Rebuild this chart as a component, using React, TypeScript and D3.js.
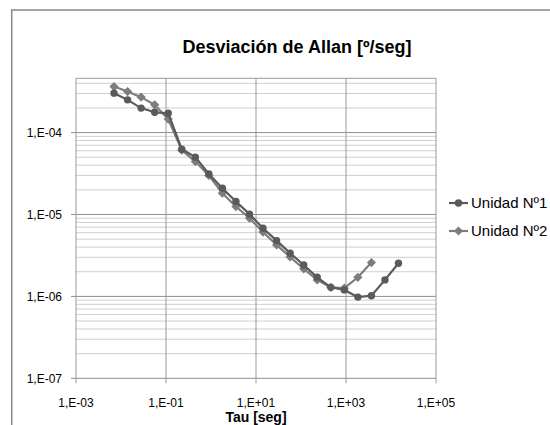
import React from "react";
import * as d3 from "d3";

// tau [s] (octave steps)
const tau = [
  0.007, 0.014, 0.028, 0.056, 0.112, 0.224, 0.448, 0.896, 1.79, 3.58, 7.17,
  14.3, 28.7, 57.3, 115, 229, 459, 918, 1835, 3670, 7340, 14680,
];

const unidad1 = [
  3.03e-4, 2.51e-4, 1.99e-4, 1.77e-4, 1.72e-4, 6.27e-5, 5.01e-5, 3.13e-5,
  2.09e-5, 1.44e-5, 1.01e-5, 6.8e-6, 4.8e-6, 3.37e-6, 2.42e-6, 1.71e-6,
  1.29e-6, 1.2e-6, 9.8e-7, 1.02e-6, 1.59e-6, 2.54e-6,
];

const unidad2 = [
  3.65e-4, 3.17e-4, 2.71e-4, 2.18e-4, 1.46e-4, 6.1e-5, 4.43e-5, 3.0e-5,
  1.82e-5, 1.25e-5, 9.0e-6, 6.1e-6, 4.25e-6, 3.03e-6, 2.17e-6, 1.59e-6,
  1.29e-6, 1.26e-6, 1.71e-6, 2.59e-6,
];

const xTicks = [1e-3, 1e-1, 1e1, 1e3, 1e5];
const xTickLabels = ["1,E-03", "1,E-01", "1,E+01", "1,E+03", "1,E+05"];
const yTicks = [1e-7, 1e-6, 1e-5, 1e-4];
const yTickLabels = ["1,E-07", "1,E-06", "1,E-05", "1,E-04"];
const seriesNames = ["Unidad Nº1", "Unidad Nº2"];

const FONT = "'Liberation Sans', Arial, sans-serif";
const C1 = "#5a5a5a";
const C2 = "#7d7d7d";

const left = 76;
const right = 436;
const top = 78.3;
const bottom = 378.3;

export default function App() {
  const x = d3.scaleLog().domain([1e-3, 1e5]).range([left, right]);
  const y = d3.scaleLog().domain([1e-7, 4.6e-4]).range([bottom, top]);

  const minor: number[] = [];
  yTicks.forEach((d) => {
    for (let m = 2; m <= 9; m++) {
      const v = d * m;
      if (v < y.domain()[1]) minor.push(v);
    }
  });

  const line = d3
    .line<[number, number]>()
    .x((d) => x(d[0]))
    .y((d) => y(d[1]));

  const pts1 = unidad1.map((v, i) => [tau[i], v] as [number, number]);
  const pts2 = unidad2.map((v, i) => [tau[i], v] as [number, number]);

  const diamond = (cx: number, cy: number, r = 4.6) =>
    `M${cx},${cy - r}L${cx + r},${cy}L${cx},${cy + r}L${cx - r},${cy}Z`;

  const legendY = [203, 231];

  return (
    <svg
      width={550}
      height={425}
      style={{ position: "absolute", left: 0, top: 0, background: "#fff" }}
      fontFamily={FONT}
    >
      <rect x={11.7} y={10} width={580} height={440} fill="#fff" stroke="#868686" strokeWidth={1.5} />

      <text x={297} y={53} textAnchor="middle" fontSize={18} fontWeight="bold" fill="#000">
        Desviación de Allan [º/seg]
      </text>

      {/* minor horizontal grid */}
      {minor.map((v, i) => (
        <line key={"m" + i} x1={left} x2={right} y1={y(v)} y2={y(v)} stroke="#cfcfcf" strokeWidth={1} />
      ))}
      {/* major horizontal grid */}
      {yTicks.map((v, i) => (
        <line key={"h" + i} x1={left - 5} x2={right} y1={y(v)} y2={y(v)} stroke="#8f8f8f" strokeWidth={1} />
      ))}
      {/* vertical grid */}
      {xTicks.map((v, i) => (
        <line key={"v" + i} x1={x(v)} x2={x(v)} y1={top} y2={bottom + 5} stroke="#9a9a9a" strokeWidth={1} />
      ))}
      <line x1={left} x2={right} y1={top} y2={top} stroke="#9a9a9a" strokeWidth={1} />

      {yTicks.map((v, i) => (
        <text key={"yl" + i} x={62} y={y(v) + 4.3} textAnchor="end" fontSize={12} fill="#000">
          {yTickLabels[i]}
        </text>
      ))}
      {xTicks.map((v, i) => (
        <text key={"xl" + i} x={x(v)} y={406.5} textAnchor="middle" fontSize={12} fill="#000">
          {xTickLabels[i]}
        </text>
      ))}
      <text x={(left + right) / 2} y={421.7} textAnchor="middle" fontSize={14} fontWeight="bold" fill="#000">
        Tau [seg]
      </text>

      <path d={line(pts2) || ""} fill="none" stroke={C2} strokeWidth={2.2} />
      {pts2.map((d, i) => (
        <path key={"d" + i} d={diamond(x(d[0]), y(d[1]))} fill={C2} />
      ))}
      <path d={line(pts1) || ""} fill="none" stroke={C1} strokeWidth={2.2} />
      {pts1.map((d, i) => (
        <circle key={"c" + i} cx={x(d[0])} cy={y(d[1])} r={3.7} fill={C1} />
      ))}

      {/* legend */}
      <line x1={449} x2={468} y1={legendY[0]} y2={legendY[0]} stroke={C1} strokeWidth={2.2} />
      <circle cx={458.5} cy={legendY[0]} r={3.7} fill={C1} />
      <text x={471} y={legendY[0] + 5.3} fontSize={15} fill="#000">
        {seriesNames[0]}
      </text>
      <line x1={449} x2={468} y1={legendY[1]} y2={legendY[1]} stroke={C2} strokeWidth={2.2} />
      <path d={diamond(458.5, legendY[1])} fill={C2} />
      <text x={471} y={legendY[1] + 5.3} fontSize={15} fill="#000">
        {seriesNames[1]}
      </text>
    </svg>
  );
}
